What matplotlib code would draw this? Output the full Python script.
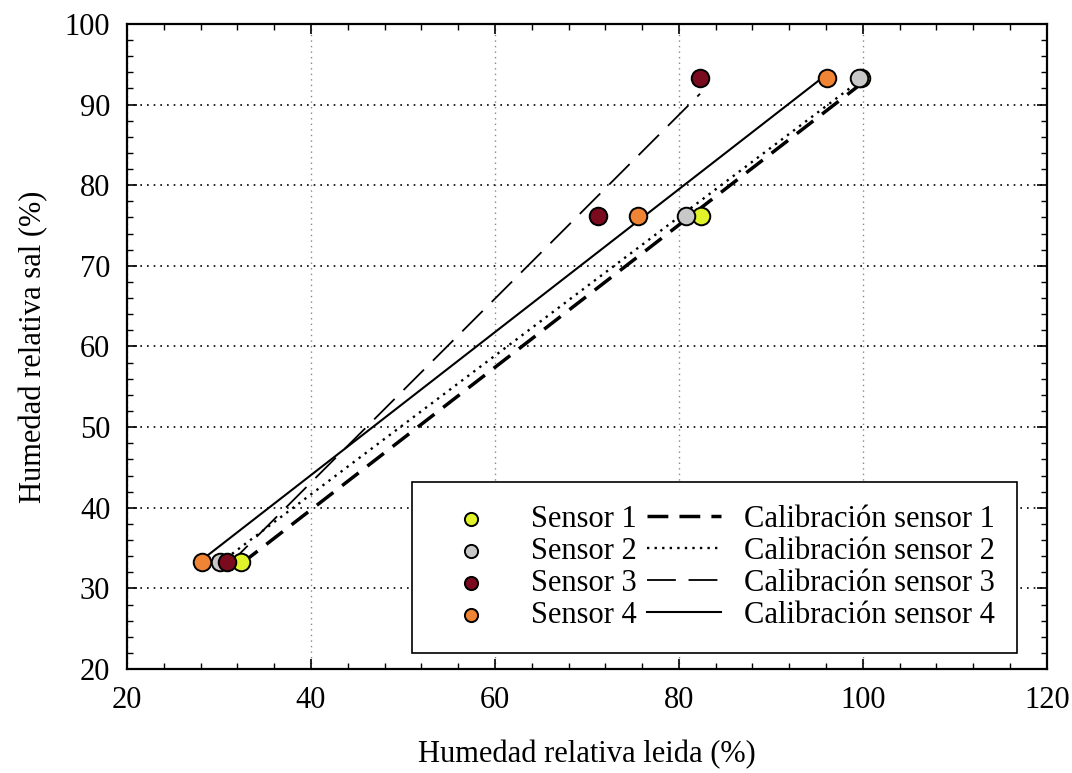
import numpy as np
import matplotlib
matplotlib.use("Agg")
import matplotlib.pyplot as plt
from matplotlib.ticker import MultipleLocator

# Data
salt_rh = [33.3, 76.2, 93.3]
sensor1 = [32.4, 82.4, 99.8]
sensor2 = [30.1, 80.8, 99.6]
sensor3 = [30.9, 71.2, 82.3]
sensor4 = [28.1, 75.5, 96.1]
sensor_names = ["Sensor 1", "Sensor 2", "Sensor 3", "Sensor 4"]
calib_names = ["Calibración sensor 1", "Calibración sensor 2",
               "Calibración sensor 3", "Calibración sensor 4"]
colors = ["#e0f22a", "#c8c8c8", "#7a0a1e", "#ee8434"]

plt.rcParams['font.family'] = ['Liberation Serif', 'DejaVu Serif']

fig = plt.figure(figsize=(10.72, 7.73), dpi=100)
ax = fig.add_axes([0.1185, 0.1345, 0.858, 0.8345])

readings = [sensor1, sensor2, sensor3, sensor4]
line_styles = [
    dict(linestyle=(0, (6, 3.2)), linewidth=2.5),
    dict(linestyle=(0, (1, 2.2)), linewidth=1.7),
    dict(linestyle=(0, (16, 7)), linewidth=1.3),
    dict(linestyle='-', linewidth=1.5),
]

line_handles = []
for xs, st, lab in zip(readings, line_styles, calib_names):
    xs = np.array(xs)
    a, b = np.polyfit(xs, salt_rh, 1)
    xr = np.array([xs.min(), xs.max()])
    h, = ax.plot(xr, a * xr + b, color='black', label=lab, zorder=2, **st)
    line_handles.append(h)

scat_handles = []
for xs, c, lab in zip(readings, colors, sensor_names):
    h = ax.scatter(xs, salt_rh, s=160, color=c, edgecolors='black',
                   linewidths=1.4, label=lab, zorder=3)
    scat_handles.append(h)

ax.set_xlim(20, 120)
ax.set_ylim(20, 100)
ax.xaxis.set_major_locator(MultipleLocator(20))
ax.xaxis.set_minor_locator(MultipleLocator(4))
ax.yaxis.set_major_locator(MultipleLocator(10))
ax.yaxis.set_minor_locator(MultipleLocator(2))
ax.tick_params(which='both', direction='in', top=True, right=True,
               labelsize=22, color='black')
ax.tick_params(which='major', length=7, width=1.2, pad=12)
ax.tick_params(which='minor', length=4, width=1.0)
for sp in ax.spines.values():
    sp.set_linewidth(1.6)

ax.grid(axis='y', which='major', linestyle=(0, (1, 3)), color='black', linewidth=1.2)
ax.grid(axis='x', which='major', linestyle=(0, (1, 3)), color='#888888', linewidth=1.0)
ax.set_axisbelow(True)

ax.set_xlabel("Humedad relativa leida (%)", fontsize=22, labelpad=18)
ax.set_ylabel("Humedad relativa sal (%)", fontsize=22, labelpad=12)

leg = ax.legend(scat_handles + line_handles, sensor_names + calib_names,
                ncol=2, loc='lower right', bbox_to_anchor=(0.968, 0.025),
                fontsize=22, frameon=True, fancybox=False,
                edgecolor='black', framealpha=1, borderpad=0.75,
                labelspacing=0.1, handlelength=2.4, handletextpad=0.75,
                columnspacing=0.35, borderaxespad=0, markerscale=0.75)
leg.get_frame().set_linewidth(1.2)

fig.savefig("out.png", dpi=100)
